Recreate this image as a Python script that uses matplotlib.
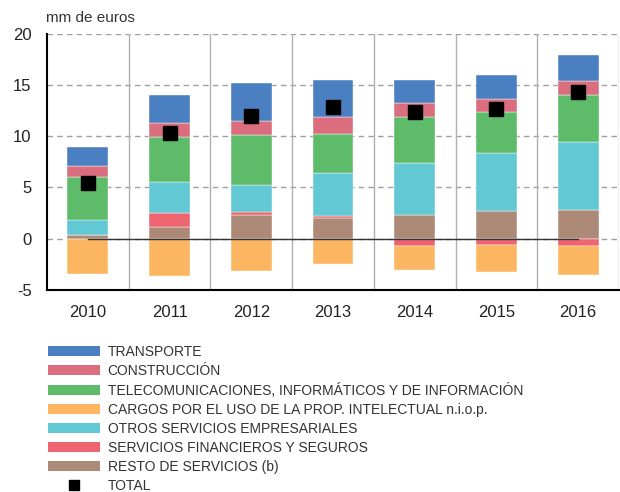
import numpy as np
import matplotlib.pyplot as plt
from matplotlib.patches import Patch
from matplotlib.lines import Line2D

plt.rcParams['font.family'] = ['Liberation Sans', 'DejaVu Sans']
plt.rcParams['axes.unicode_minus'] = False

years = ["2010", "2011", "2012", "2013", "2014", "2015", "2016"]

transporte = [1.89, 2.77, 3.71, 3.61, 2.24, 2.40, 2.51]
construccion = [1.04, 1.37, 1.37, 1.66, 1.37, 1.22, 1.40]
telecom = [4.23, 4.40, 4.86, 3.82, 4.47, 4.03, 4.57]
cargos = [-3.42, -3.65, -3.16, -2.47, -2.29, -2.61, -2.81]
otros = [1.41, 2.97, 2.64, 4.17, 5.05, 5.70, 6.67]
financieros = [0.0, 1.37, 0.26, 0.23, -0.74, -0.65, -0.71]
resto = [0.39, 1.17, 2.35, 1.99, 2.35, 2.68, 2.78]
total = [5.47, 10.33, 12.02, 12.90, 12.39, 12.68, 14.37]

labels = ["TRANSPORTE", "CONSTRUCCIÓN",
          "TELECOMUNICACIONES, INFORMÁTICOS Y DE INFORMACIÓN",
          "CARGOS POR EL USO DE LA PROP. INTELECTUAL n.i.o.p.",
          "OTROS SERVICIOS EMPRESARIALES",
          "SERVICIOS FINANCIEROS Y SEGUROS",
          "RESTO DE SERVICIOS (b)", "TOTAL"]
colors = ["#4a7fc1", "#da6e7e", "#5dbb6a", "#fcb662", "#62c8d4", "#ef6471", "#ad8a78"]

# stacking order from zero outwards
stack = [(resto, 6), (financieros, 5), (otros, 4), (telecom, 2),
         (construccion, 1), (transporte, 0), (cargos, 3)]

fig = plt.figure(figsize=(6.2, 4.92), dpi=100)
ax = fig.add_axes([47/620, 1-289.7/492, 572/620, (289.7-34)/492])

x = np.arange(len(years))
pos = np.zeros(len(years))
neg = np.zeros(len(years))
for vals, ci in stack:
    v = np.array(vals)
    base = np.where(v >= 0, pos, neg)
    ax.bar(x, v, bottom=base, width=0.5, color=colors[ci],
           edgecolor="white", linewidth=0.3, zorder=3)
    pos = pos + np.where(v >= 0, v, 0)
    neg = neg + np.where(v < 0, v, 0)

ax.plot(x, total, linestyle="none", marker="s", markersize=10,
        color="black", zorder=5)
ax.plot([x[0], x[-1]], [0, 0], color="#333333", lw=1, zorder=4)

ax.set_xlim(-0.5, len(years) - 0.5)
ax.set_ylim(-5, 20)
ax.set_yticks(np.arange(-5, 21, 5))
ax.set_xticks(x)
ax.set_xticklabels(years)
for yv in range(0, 21, 5):
    ax.axhline(yv, color="#a0a0a0", lw=1, dashes=(4, 3), zorder=1)
for xv in np.arange(0.5, len(years), 1):
    ax.axvline(xv, color="#b0b0b0", lw=1, zorder=1)

for s in ["top", "right"]:
    ax.spines[s].set_visible(False)
for s in ["left", "bottom"]:
    ax.spines[s].set_color("black")
    ax.spines[s].set_linewidth(1.5)
ax.tick_params(axis="both", length=0, labelsize=12, colors="#222222")
ax.tick_params(axis="y", pad=11)
ax.tick_params(axis="x", pad=11)

fig.text(46/620, 1-18/492, "mm de euros", fontsize=11, color="#333333",
         va="center", ha="left")

handles = [Patch(facecolor=colors[i]) for i in range(7)]
handles.append(Line2D([], [], linestyle="none", marker="s", markersize=7,
                      color="black"))
leg = fig.legend(handles, labels, loc="upper left",
                 bbox_to_anchor=(48/620, 1-345/492), frameon=False,
                 borderpad=0, borderaxespad=0, handlelength=3.75,
                 handleheight=0.65, handletextpad=0.55, labelspacing=0.36,
                 prop={"family": ["Liberation Sans", "DejaVu Sans"],
                       "size": 10})
for t in leg.get_texts():
    t.set_color("#333333")

fig.savefig("out.png", dpi=100)
